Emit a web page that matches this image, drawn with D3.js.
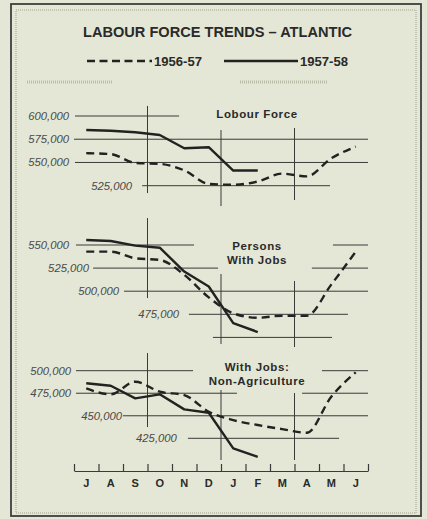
<!DOCTYPE html>
<html><head><meta charset="utf-8">
<script src="https://cdn.jsdelivr.net/npm/d3@7"></script>
<style>
html,body{margin:0;padding:0;background:#e4e7d5;}
svg{display:block;}
</style></head>
<body>
<svg id="c" width="427" height="519"></svg>
<script>
// ---- data ----
const months = ["J","A","S","O","N","D","J","F","M","A","M","J"];
const seriesNames = ["1956-57","1957-58"];
const panelTitles = [["Lobour Force"],["Persons","With Jobs"],["With Jobs:","Non-Agriculture"]];

const labourPrev = [560000,559000,549500,548500,541500,527000,526000,529500,538000,535000,554500,567000];
const labourCurr = [585000,584200,582500,579600,565300,566400,541300,541300];
const jobsPrev   = [542800,542800,535600,533800,517700,493300,476100,471300,473500,473500,507100,542800];
const jobsCurr   = [555400,554300,549300,547100,521300,505100,465500,455800];
const nonAgPrev  = [480400,473800,487800,476700,473000,454400,445200,439700,435200,431100,471100,498200];
const nonAgCurr  = [486000,483300,469300,473800,457100,453300,413800,404400];

const labourTicks = [600000,575000,550000,525000];
const jobsTicks   = [550000,525000,500000,475000,450000];
const nonAgTicks  = [500000,475000,450000,425000];

// ---- layout ----
const W = 427, H = 519;
const svg = d3.select("#c");
const ink = "#222";
const gridInk = "#3a3a3a";
const labelInk = "#4a4a4a";

const x = d3.scaleLinear().domain([0, 12]).range([74, 368]);

// per panel: y-range, and gridline segments [value, [u0,u1], [u0,u1]?, labelEndU | null]
const panels = [
  { prev: labourPrev, curr: labourCurr, ticks: labourTicks, title: panelTitles[0],
    domain: [525000, 600000], range: [185.7, 116], titleY: [118],
    grid: [
      {v:600000, segs:[[0.04,4.29]], lab:-0.2},
      {v:575000, segs:[[0,12]], lab:-0.2},
      {v:550000, segs:[[0.04,12]], lab:-0.2},
      {v:525000, segs:[[2.78,10.45]], lab:2.37}
    ],
    vlines: [[3,610800,517100],[6,584900,503100],[9,587100,509600]] },
  { prev: jobsPrev, curr: jobsCurr, ticks: jobsTicks, title: panelTitles[1],
    domain: [450000, 550000], range: [337.4, 245], titleY: [250, 263.5],
    grid: [
      {v:550000, segs:[[0.08,4.9],[10.57,12]], lab:-0.2},
      {v:525000, segs:[[0.78,5.88],[9.71,12]], lab:0.61},
      {v:500000, segs:[[2.04,12]], lab:1.84},
      {v:475000, segs:[[4.69,11.18]], lab:4.29},
      {v:450000, segs:[[5.67,10.53]], lab:null}
    ],
    vlines: [[3,579200,492600],[6,518600,442900],[9,511000,439600]] },
  { prev: nonAgPrev, curr: nonAgCurr, ticks: nonAgTicks, title: panelTitles[2],
    domain: [425000, 500000], range: [438.3, 370.7], titleY: [371, 385],
    grid: [
      {v:500000, segs:[[0.08,4.86],[10.12,12]], lab:-0.12},
      {v:475000, segs:[[0.08,6.65],[9.31,12]], lab:-0.12},
      {v:450000, segs:[[2.0,12]], lab:1.96},
      {v:425000, segs:[[4.65,10.82]], lab:4.2}
    ],
    vlines: [[3,519600,437500],[6,478600,400900],[9,475200,400900]] }
];

// ---- frame ----
svg.append("rect").attr("x",0).attr("y",0).attr("width",W).attr("height",H).attr("fill","#e4e7d5");
svg.append("rect").attr("x",16).attr("y",10).attr("width",400).attr("height",503)
  .attr("fill","none").attr("stroke","#c3c6b3").attr("stroke-width",2).attr("stroke-dasharray","1,1");
svg.append("rect").attr("x",11).attr("y",4).attr("width",410).attr("height",512)
  .attr("fill","none").attr("stroke","#3e3e3e").attr("stroke-width",1.8);
svg.append("line").attr("x1",27).attr("x2",112).attr("y1",82).attr("y2",82)
  .attr("stroke","#b9bca9").attr("stroke-width",3).attr("stroke-dasharray","1,1");
svg.append("line").attr("x1",240).attr("x2",327).attr("y1",82).attr("y2",82)
  .attr("stroke","#b9bca9").attr("stroke-width",3).attr("stroke-dasharray","1,1");

// ---- title & legend ----
svg.append("text").attr("x",217.5).attr("y",37).attr("text-anchor","middle")
  .attr("font-family","Liberation Sans, Arial, sans-serif").attr("font-weight","bold")
  .attr("font-size",14.5).attr("fill","#2a2a2a")
  .attr("textLength",269).attr("lengthAdjust","spacingAndGlyphs")
  .text("LABOUR FORCE TRENDS – ATLANTIC");

const legend = [
  {name: seriesNames[0], dash: "8,4.5", x1: 87, x2: 152, tx: 154},
  {name: seriesNames[1], dash: null,    x1: 224, x2: 298, tx: 300}
];
legend.forEach(l => {
  const ln = svg.append("line").attr("x1",l.x1).attr("x2",l.x2).attr("y1",61).attr("y2",61)
    .attr("stroke",ink).attr("stroke-width",2.3);
  if (l.dash) ln.attr("stroke-dasharray", l.dash);
  svg.append("text").attr("x",l.tx).attr("y",65.5)
    .attr("font-family","Liberation Sans, Arial, sans-serif").attr("font-weight","bold")
    .attr("font-size",12.5).attr("fill","#2a2a2a")
    .attr("textLength",48).attr("lengthAdjust","spacingAndGlyphs")
    .text(l.name);
});

// ---- panels ----
const fmt = d3.format(",");
panels.forEach(p => {
  const y = d3.scaleLinear().domain(p.domain).range(p.range);
  const g = svg.append("g");

  // horizontal grid
  p.grid.forEach(gl => {
    gl.segs.forEach(s => {
      g.append("line").attr("x1",x(s[0])).attr("x2",x(s[1]))
        .attr("y1",y(gl.v)).attr("y2",y(gl.v))
        .attr("stroke",gridInk).attr("stroke-width",1);
    });
    if (gl.lab !== null) {
      g.append("text").attr("x",x(gl.lab)).attr("y",y(gl.v)+4)
        .attr("text-anchor","end")
        .attr("font-family","Liberation Sans, Arial, sans-serif").attr("font-style","italic")
        .attr("font-size",11.3).attr("fill",labelInk)
        .text(fmt(gl.v));
    }
  });

  // vertical quarter lines
  p.vlines.forEach(vl => {
    g.append("line").attr("x1",x(vl[0])).attr("x2",x(vl[0]))
      .attr("y1",y(vl[1])).attr("y2",y(vl[2]))
      .attr("stroke",gridInk).attr("stroke-width",1);
  });

  // title
  p.title.forEach((t,i) => {
    g.append("text").attr("x",257).attr("y",p.titleY[i]).attr("text-anchor","middle")
      .attr("font-family","Liberation Sans, Arial, sans-serif").attr("font-weight","bold")
      .attr("font-size",11.5).attr("fill","#2a2a2a").attr("letter-spacing",0.6)
      .text(t);
  });

  // series
  const lineGen = d3.line().x((d,i) => x(i + 0.5)).y(d => y(d));
  g.append("path").datum(p.prev)
    .attr("d", lineGen.curve(d3.curveMonotoneX))
    .attr("fill","none").attr("stroke",ink).attr("stroke-width",2.4)
    .attr("stroke-dasharray","8,5");
  g.append("path").datum(p.curr)
    .attr("d", lineGen.curve(d3.curveLinear))
    .attr("fill","none").attr("stroke",ink).attr("stroke-width",2.4)
    .attr("stroke-linejoin","round");
});

// ---- bottom month axis ----
const axisY = 471;
const axis = d3.axisTop(x).tickValues(d3.range(0,13)).tickSize(7).tickSizeOuter(0).tickFormat("");
const ag = svg.append("g").attr("transform",`translate(0,${axisY})`).call(axis);
ag.select(".domain").attr("stroke",gridInk).attr("stroke-width",1.2);
ag.selectAll(".tick line").attr("stroke",gridInk).attr("stroke-width",1.2);

svg.append("g").selectAll("text").data(months).join("text")
  .attr("x",(d,i) => x(i + 0.5)).attr("y",487)
  .attr("text-anchor","middle")
  .attr("font-family","Liberation Sans, Arial, sans-serif").attr("font-weight","bold")
  .attr("font-size",11).attr("fill","#2a2a2a")
  .text(d => d);
</script>
</body></html>
